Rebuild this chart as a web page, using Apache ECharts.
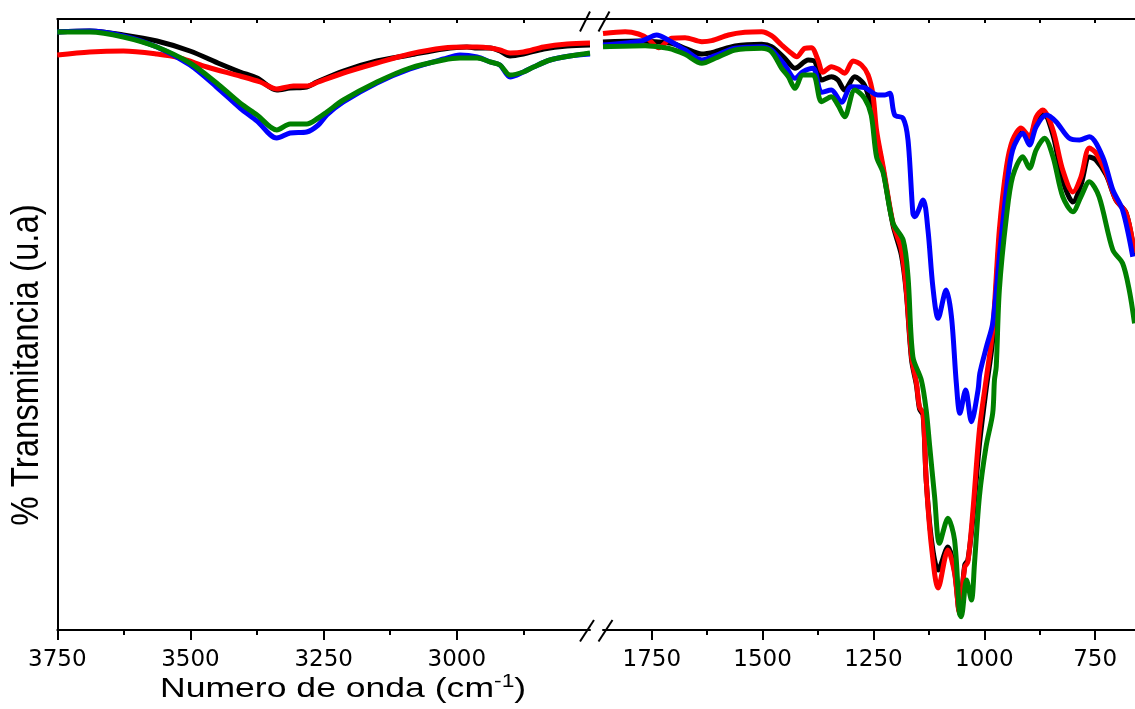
<!DOCTYPE html>
<html>
<head>
<meta charset="utf-8">
<script src="https://cdn.jsdelivr.net/npm/echarts@6/dist/echarts.min.js"></script>
<style>html,body{margin:0;padding:0;background:#fff}#c{width:1135px;height:709px}</style>
</head>
<body>
<div id="c"></div>
<script>
// ---- data: [wavenumber (cm-1), transmittance (a.u.)] ----
const leftBlack = [[3750,59.8],[3689,59.9],[3626,59.5],[3563,58.9],[3501,57.9],[3444,56.6],[3407,55.8],[3375,55.2],[3338,54.0],[3313,54.2],[3282,54.3],[3263,54.8],[3213,55.9],[3150,56.9],[3088,57.5],[3025,58.1],[2981,58.3],[2962,58.2],[2937,58.2],[2919,57.9],[2900,57.4],[2875,57.6],[2837,58.1],[2793,58.4],[2750,58.5]];
const leftRed = [[3750,57.5],[3689,57.8],[3626,57.9],[3563,57.6],[3520,57.2],[3469,56.3],[3407,55.4],[3369,54.8],[3338,54.1],[3307,54.4],[3282,54.4],[3260,54.8],[3213,55.7],[3150,56.7],[3088,57.6],[3025,58.2],[2981,58.3],[2962,58.3],[2937,58.2],[2919,58.0],[2900,57.7],[2875,57.8],[2837,58.3],[2793,58.6],[2750,58.7]];
const leftBlue = [[3750,59.8],[3689,59.9],[3626,59.4],[3563,58.3],[3501,56.5],[3451,54.3],[3407,52.2],[3375,50.9],[3338,49.2],[3313,49.7],[3282,49.8],[3260,50.5],[3244,51.5],[3213,52.8],[3150,54.7],[3088,56.1],[3025,57.1],[2994,57.5],[2962,57.3],[2937,56.8],[2919,56.5],[2900,55.3],[2875,55.8],[2856,56.3],[2825,57.0],[2788,57.4],[2750,57.6]];
const leftGreen = [[3750,59.8],[3689,59.8],[3626,59.3],[3563,58.3],[3501,56.7],[3451,54.7],[3407,52.7],[3375,51.5],[3338,50.0],[3313,50.6],[3282,50.6],[3260,51.2],[3244,51.8],[3213,53.0],[3150,54.8],[3088,56.2],[3025,57.0],[2994,57.2],[2962,57.2],[2937,56.8],[2919,56.5],[2900,55.5],[2875,55.8],[2856,56.3],[2825,57.0],[2788,57.4],[2750,57.7]];

const rightBlack = [[1860,58.8],[1848,58.83],[1780,58.9],[1742,58.83],[1705,58.67],[1675,58.17],[1637,57.6],[1607,57.83],[1562,58.4],[1502,58.57],[1480,58.33],[1450,57.17],[1427,56.17],[1397,57.0],[1382,56.83],[1367,55.0],[1345,55.33],[1330,55.0],[1315,54.0],[1292,55.33],[1273,54.67],[1262,53.5],[1250,51.0],[1228,46.0],[1206,40.5],[1187,37.5],[1176,33.8],[1164,27.0],[1153,24.5],[1146,22.1],[1138,21.5],[1131,15.0],[1119,9.0],[1104,6.0],[1082,8.3],[1067,5.9],[1056,1.8],[1044,6.5],[1037,7.0],[1026,11.0],[1011,18.5],[996,24.0],[981,29.0],[966,39.0],[950,45.8],[936,48.8],[917,50.0],[898,49.2],[883,51.0],[868,51.8],[845,49.5],[823,45.0],[800,42.8],[782,44.5],[763,47.3],[748,47.0],[725,45.5],[703,43.0],[680,41.7],[661,37.5]];
const rightRed = [[1860,59.65],[1810,59.83],[1780,59.6],[1758,59.1],[1735,58.23],[1705,59.17],[1675,59.23],[1637,58.83],[1615,58.93],[1577,59.5],[1540,59.77],[1502,59.83],[1480,59.43],[1457,58.5],[1435,57.67],[1423,57.33],[1405,58.17],[1390,58.23],[1375,57.0],[1364,55.77],[1345,56.33],[1330,56.1],[1315,55.67],[1296,56.9],[1277,56.5],[1262,55.5],[1251,53.5],[1243,50.0],[1228,46.3],[1206,40.7],[1187,38.0],[1176,34.0],[1164,27.3],[1153,24.7],[1146,22.3],[1138,21.7],[1131,15.0],[1119,8.3],[1104,4.2],[1082,8.0],[1067,5.7],[1056,1.7],[1044,6.3],[1037,6.8],[1026,11.7],[1011,20.0],[996,25.0],[981,30.0],[966,40.0],[950,46.3],[936,49.0],[917,50.2],[898,49.3],[883,51.3],[868,52.0],[845,50.0],[823,46.0],[800,43.8],[782,45.3],[763,48.2],[748,47.7],[725,45.7],[703,43.0],[680,41.7],[661,37.7]];
const rightBlue = [[1860,58.5],[1773,58.9],[1739,59.5],[1713,59.0],[1675,58.0],[1637,57.0],[1607,57.43],[1562,58.17],[1502,58.33],[1480,58.0],[1450,56.5],[1427,55.17],[1409,55.83],[1386,56.17],[1367,53.77],[1345,54.0],[1322,52.77],[1300,54.33],[1270,54.23],[1240,53.5],[1224,53.5],[1213,53.67],[1202,51.5],[1183,51.17],[1172,49.0],[1161,41.67],[1157,41.33],[1138,43.0],[1127,40.0],[1116,34.33],[1104,31.17],[1086,34.0],[1074,31.33],[1063,24.67],[1055,21.67],[1042,24.0],[1029,20.83],[1014,24.0],[1010,25.67],[995,28.33],[981,30.67],[966,37.33],[950,44.0],[936,48.0],[913,49.67],[898,48.5],[883,50.33],[860,51.5],[838,50.83],[808,49.17],[785,49.0],[763,49.33],[733,47.33],[710,44.0],[688,42.0],[665,37.33]];
const rightGreen = [[1860,58.33],[1765,58.43],[1713,58.17],[1675,57.57],[1637,56.67],[1607,57.17],[1562,58.0],[1502,58.17],[1480,57.83],[1457,56.17],[1442,55.33],[1427,54.17],[1409,55.5],[1386,55.5],[1367,52.83],[1345,53.33],[1330,52.5],[1315,51.33],[1292,54.0],[1270,53.17],[1255,51.5],[1243,47.33],[1228,45.7],[1206,40.7],[1183,39.0],[1172,35.33],[1161,27.33],[1142,25.0],[1131,22.0],[1123,18.33],[1112,13.33],[1101,8.67],[1082,11.17],[1067,9.0],[1056,1.67],[1052,1.33],[1040,5.0],[1029,3.0],[1022,6.67],[1011,13.33],[996,18.33],[981,21.67],[977,25.0],[973,26.33],[966,34.0],[950,41.33],[936,45.33],[913,47.33],[898,46.17],[883,48.0],[864,49.17],[845,47.33],[823,43.33],[800,41.83],[782,43.33],[763,44.83],[741,43.33],[710,38.0],[688,36.67],[673,34.0],[661,30.67]];

// ---- axis ranges and tick labels ----
const leftRange = [2750, 3750];
const rightRange = [660, 1860];
const yRange = [0, 61.1];
const leftMajorTicks = [3750, 3500, 3250, 3000];
const leftMinorTicks = [3625, 3375, 3125, 2875];
const leftTopTicks = [3625, 3500, 3375, 3250, 3125, 3000, 2875];
const rightMajorTicks = [1750, 1500, 1250, 1000, 750];
const rightMinorTicks = [1625, 1375, 1125, 875];
const rightTopTicks = [1750, 1625, 1500, 1375, 1250, 1125, 1000, 875, 750];
const xTitle = ['Numero de onda (cm', '-1', ')'];
const yTitle = '% Transmitancia (u.a)';

const colors = {black: '#000000', red: '#ff0000', blue: '#0000ff', green: '#008000'};

const chart = echarts.init(document.getElementById('c'), null, {renderer: 'canvas'});
const AX = {color: '#000', width: 2};

function xAxesFor(gridIndex, range, major, minor, top) {
  const base = {type: 'value', gridIndex, min: range[0], max: range[1], inverse: true,
    splitLine: {show: false}, axisPointer: {show: false}};
  return [
    Object.assign({}, base, {position: 'bottom',
      axisLine: {show: true, onZero: false, lineStyle: AX},
      axisTick: {show: true, customValues: major, length: 10, inside: false, lineStyle: AX},
      axisLabel: {show: true, customValues: major, color: '#000', fontSize: 23,
        fontFamily: 'DejaVu Sans', margin: 19, formatter: v => String(v)}}),
    Object.assign({}, base, {position: 'bottom',
      axisLine: {show: false},
      axisTick: {show: true, customValues: minor, length: 5, inside: false, lineStyle: AX},
      axisLabel: {show: false}}),
    Object.assign({}, base, {position: 'top',
      axisLine: {show: true, onZero: false, lineStyle: AX},
      axisTick: {show: true, customValues: top, length: 4, inside: true, lineStyle: AX},
      axisLabel: {show: false}})
  ];
}

function lineSeries(data, color, xi, yi) {
  return {type: 'line', data, xAxisIndex: xi, yAxisIndex: yi, showSymbol: false, symbol: 'none',
    smooth: 0.3, clip: true, lineStyle: {color, width: 5}, itemStyle: {color},
    emphasis: {disabled: true}, silent: true};
}

const option = {
  animation: false,
  backgroundColor: '#fff',
  grid: [
    {left: 57.3, top: 19, width: 532.7, height: 611},
    {left: 603, top: 19, width: 533, height: 611}
  ],
  xAxis: [].concat(
    xAxesFor(0, leftRange, leftMajorTicks, leftMinorTicks, leftTopTicks),
    xAxesFor(1, rightRange, rightMajorTicks, rightMinorTicks, rightTopTicks)
  ),
  yAxis: [
    {type: 'value', gridIndex: 0, min: yRange[0], max: yRange[1], position: 'left',
      axisLine: {show: true, onZero: false, lineStyle: AX}, axisTick: {show: false},
      axisLabel: {show: false}, splitLine: {show: false}},
    {type: 'value', gridIndex: 1, min: yRange[0], max: yRange[1], show: false,
      splitLine: {show: false}}
  ],
  series: [
    lineSeries(leftBlack, colors.black, 0, 0),
    lineSeries(leftRed, colors.red, 0, 0),
    lineSeries(leftBlue, colors.blue, 0, 0),
    lineSeries(leftGreen, colors.green, 0, 0),
    lineSeries(rightBlack, colors.black, 3, 1),
    lineSeries(rightRed, colors.red, 3, 1),
    lineSeries(rightBlue, colors.blue, 3, 1),
    lineSeries(rightGreen, colors.green, 3, 1)
  ],
  graphic: [
    {type: 'line', shape: {x1: 589, y1: 19, x2: 604, y2: 19}, style: {stroke: '#000', lineWidth: 2}},
    {type: 'line', shape: {x1: 580, y1: 31.5, x2: 590, y2: 11.5}, style: {stroke: '#000', lineWidth: 2}},
    {type: 'line', shape: {x1: 598.5, y1: 31.5, x2: 609.5, y2: 11.5}, style: {stroke: '#000', lineWidth: 2}},
    {type: 'rect', shape: {x: 590, y: 622, width: 13, height: 16}, style: {fill: '#fff'}},
    {type: 'line', shape: {x1: 580, y1: 641.5, x2: 594, y2: 620}, style: {stroke: '#000', lineWidth: 2}},
    {type: 'line', shape: {x1: 598.5, y1: 641.5, x2: 612.5, y2: 620}, style: {stroke: '#000', lineWidth: 2}},
    {type: 'text', x: 160, y: 673, scaleX: 1.27,
      style: {text: '{n|' + xTitle[0] + '}{s|' + xTitle[1] + '}{n|' + xTitle[2] + '}',
        verticalAlign: 'top', align: 'left',
        rich: {
          n: {fontSize: 28, fontFamily: 'Liberation Sans', lineHeight: 32, fill: '#000'},
          s: {fontSize: 18, fontFamily: 'Liberation Sans', lineHeight: 18, verticalAlign: 'top', fill: '#000'}
        }}},
    {type: 'text', x: 28, y: 365, rotation: Math.PI / 2, scaleY: 1.15,
      style: {text: yTitle, fontSize: 33, fontFamily: 'Liberation Sans', fill: '#000',
        align: 'center', verticalAlign: 'middle'}}
  ]
};
chart.setOption(option);
</script>
</body>
</html>
